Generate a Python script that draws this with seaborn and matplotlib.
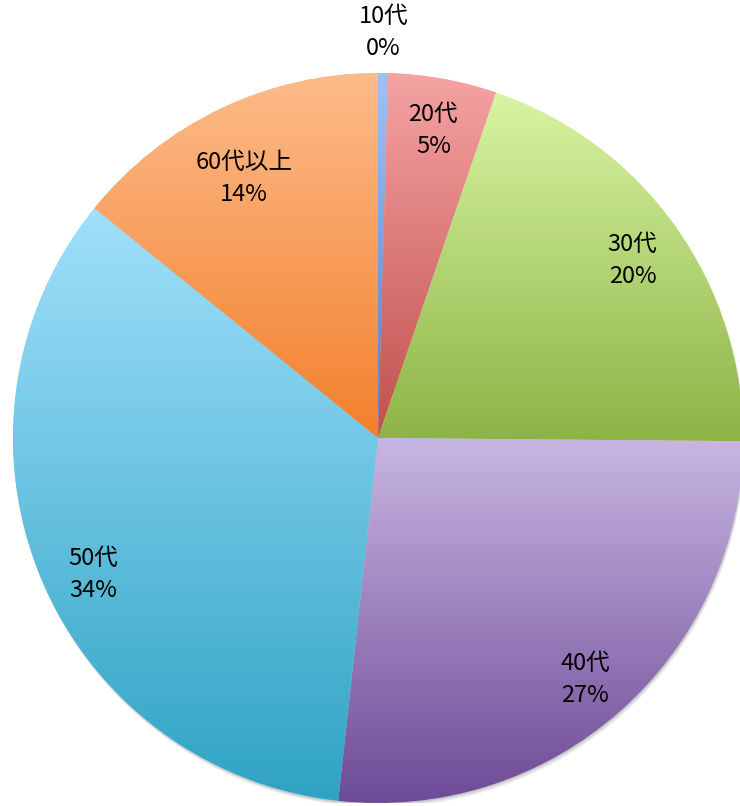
import numpy as np
import matplotlib
matplotlib.use("Agg")
import matplotlib.pyplot as plt
import seaborn as sns
from matplotlib.colors import LinearSegmentedColormap
from matplotlib.patches import Circle

sns.set_theme(style="white")
plt.rcParams['font.family'] = ['Noto Sans CJK JP', 'DejaVu Sans']

categories = ["10代", "20代", "30代", "40代", "50代", "60代以上"]
values = [0.44, 4.8, 19.9, 26.6, 34.1, 14.16]
top_colors = ["#a4c0f2", "#f5a3a3", "#d8f4a2", "#c8b6e2", "#a0e0fb", "#fdbb8a"]
bottom_colors = ["#4f7fcf", "#c0504d", "#8db345", "#6d4a96", "#2fa3c4", "#f3802c"]
label_radius = [1.11, 0.855, 0.855, 0.855, 0.855, 0.855]
label_shift = [(0, 0), (0, 0), (0, -0.008), (0, -0.022), (0.011, -0.05), (0, -0.06)]

W, H = 740, 806
cx, cy, R = 378, 438, 365
fig = plt.figure(figsize=(W / 100, H / 100), dpi=100)
ax = fig.add_axes([(cx - R) / W, (H - cy - R) / H, 2 * R / W, 2 * R / H])

# faint shadow
for k, a in zip([0.012, 0.008, 0.004], [0.06, 0.08, 0.1]):
    ax.add_patch(Circle((k * 0.4, -k), 1.0, facecolor='black', alpha=a,
                        linewidth=0, zorder=0))

wedges, _ = ax.pie(values, startangle=90, counterclock=False, radius=1,
                   colors=top_colors, wedgeprops=dict(linewidth=0))

grad = np.linspace(1, 0, 256).reshape(-1, 1)
for w, c0, c1 in zip(wedges, top_colors, bottom_colors):
    w.set_zorder(1)
    verts = w.get_patch_transform().transform(w.get_path().vertices)
    xmin, ymin = verts.min(axis=0)
    xmax, ymax = verts.max(axis=0)
    ymin = max(ymin, -1); ymax = min(ymax, 1)
    cmap = LinearSegmentedColormap.from_list("g", [c1, c0])
    im = ax.imshow(grad, cmap=cmap, extent=[xmin, xmax, ymin, ymax],
                   aspect='auto', origin='upper', zorder=2, interpolation='bilinear')
    im.set_clip_path(w)

for w, cat, v, r, (sx, sy) in zip(wedges, categories, values, label_radius, label_shift):
    ang = np.deg2rad((w.theta1 + w.theta2) / 2)
    ax.text(r * np.cos(ang) + sx, r * np.sin(ang) + sy, f"{cat}\n{round(v)}%",
            ha='center', va='center', fontsize=17, color='black',
            linespacing=1.5, zorder=5)

ax.set_xlim(-1, 1)
ax.set_ylim(-1, 1)
ax.set_aspect('auto')
ax.axis('off')
fig.savefig("out.png", dpi=100)
